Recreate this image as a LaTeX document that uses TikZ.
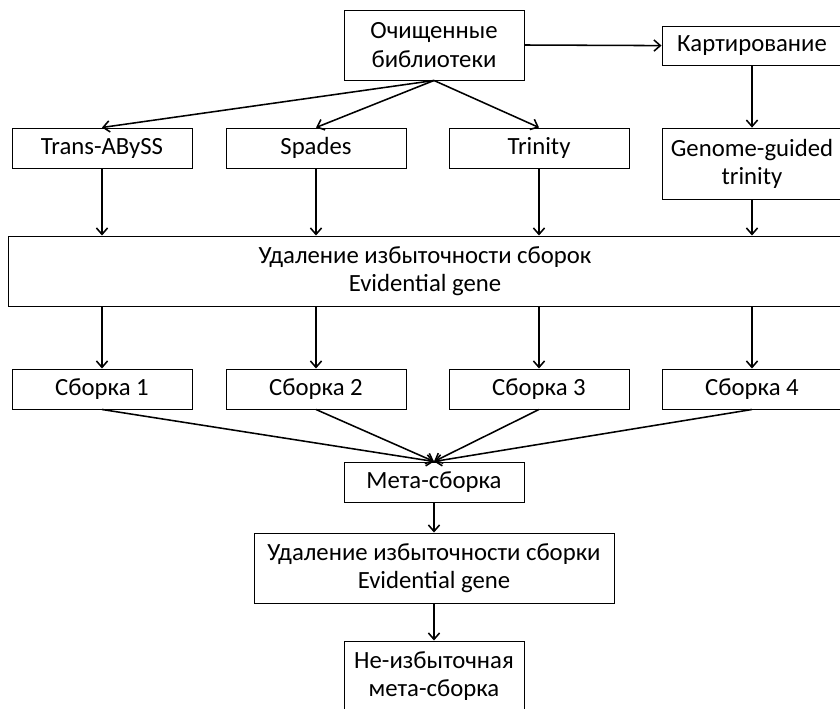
\documentclass[tikz,border=0pt]{standalone}
\usepackage{fontspec}
\setmainfont{Carlito}
\usepackage{tikz}
\usetikzlibrary{arrows.meta, positioning, calc}
\tikzstyle{stepbox} = [rectangle, draw=black, line width=0.7pt, minimum width=4.5cm, minimum height=1cm, text centered, align=center, font=\fontsize{17.6}{20}\selectfont, inner sep=2pt]
\tikzstyle{flow} = [line width=1.1pt, -{Straight Barb[length=1.6mm, width=2.8mm]}]

\begin{document}
\begin{tikzpicture}
    % picture frame
    \clip (0,0) rectangle (21,-17.725);
    \fill[white] (0,0) rectangle (21,-17.725);

    % Input and mapping
    \node (lib) [stepbox, minimum height=1.75cm] at (10.85,-1.125) {Очищенные\\библиотеки};
    \node (map) [stepbox, minimum height=0.975cm] at (18.8,-1.14) {Картирование};

    % Assemblers
    \node (tabyss) [stepbox] at (2.55,-3.7) {Trans-ABySS};
    \node (spades) [stepbox] at (7.9,-3.7) {Spades};
    \node (trinity) [stepbox] at (13.475,-3.7) {Trinity};
    \node (ggt) [stepbox, minimum height=1.775cm] at (18.8,-4.09) {Genome-guided\\trinity};

    % Redundancy removal
    \node (rr) [stepbox, minimum width=20.85cm, minimum height=1.75cm] at (10.625,-6.775) {Удаление избыточности сборок\\Evidential gene};

    % Assemblies
    \node (sb1) [stepbox] at (2.55,-9.725) {Сборка 1};
    \node (sb2) [stepbox] at (7.9,-9.725) {Сборка 2};
    \node (sb3) [stepbox] at (13.475,-9.725) {Сборка 3};
    \node (sb4) [stepbox] at (18.8,-9.725) {Сборка 4};

    % Meta-assembly
    \node (meta) [stepbox] at (10.85,-12.05) {Мета-сборка};
    \node (rr2) [stepbox, minimum width=9cm, minimum height=1.75cm] at (10.85,-14.2) {Удаление избыточности сборки\\Evidential gene};
    \node (final) [stepbox, minimum height=1.75cm] at (10.85,-16.9) {Не-избыточная\\мета-сборка};

    % Connections
    \draw [flow] (lib.east) -- (map.west);
    \draw [flow] (map) -- (ggt);
    \draw [flow] (lib.south) -- (tabyss.north);
    \draw [flow] (lib.south) -- (spades.north);
    \draw [flow] (lib.south) -- (trinity.north);
    \foreach \n in {tabyss, spades, trinity, ggt}
        \draw [flow] (\n.south) -- (\n.south |- rr.north);
    \foreach \n in {sb1, sb2, sb3, sb4} {
        \draw [flow] (rr.south -| \n.north) -- (\n.north);
        \draw [flow] (\n.south) -- (meta.north);
    }
    \draw [flow] (meta) -- (rr2);
    \draw [flow] (rr2) -- (final);
\end{tikzpicture}
\end{document}
